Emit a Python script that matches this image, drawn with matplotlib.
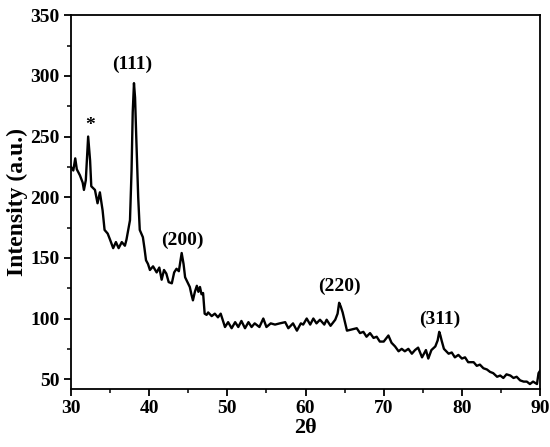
import matplotlib
matplotlib.use("Agg")
import matplotlib.pyplot as plt
from matplotlib.ticker import MultipleLocator

two_theta = [
    30.0, 30.3, 30.55, 30.75, 31.15, 31.5, 31.66, 31.9, 32.2, 32.45, 32.6, 33.07, 33.4, 33.7, 34.05,
    34.3, 34.7, 35.0, 35.4, 35.75, 36.1, 36.5, 36.9, 37.1, 37.55, 37.75, 37.9, 38.06, 38.2, 38.35,
    38.6, 38.8, 39.0, 39.2, 39.4, 39.6, 39.85, 40.1, 40.5, 40.96, 41.3, 41.6, 41.9, 42.2, 42.5,
    42.9, 43.2, 43.5, 43.8, 44.16, 44.4, 44.6, 44.9, 45.2, 45.4, 45.6, 45.85, 46.1, 46.3, 46.5,
    46.7, 46.9, 47.1, 47.35, 47.55, 48.0, 48.4, 48.8, 49.15, 49.7, 50.1, 50.55, 51.0, 51.4, 51.8,
    52.26, 52.7, 53.1, 53.5, 54.1, 54.6, 55.0, 55.55, 56.1, 56.7, 57.4, 57.8, 58.4, 58.9, 59.4,
    59.7, 60.15, 60.6, 61.0, 61.4, 61.85, 62.4, 62.7, 63.2, 63.8, 64.1, 64.3, 64.5, 64.75, 65.05,
    65.3, 65.9, 66.55, 66.97, 67.4, 67.8, 68.25, 68.7, 69.1, 69.5, 70.0, 70.6, 71.0, 71.45, 71.9,
    72.3, 72.7, 73.15, 73.6, 74.0, 74.4, 74.9, 75.4, 75.7, 76.1, 76.6, 76.9, 77.1, 77.25, 77.4,
    77.7, 78.3, 78.7, 79.1, 79.55, 80.0, 80.4, 80.8, 81.5, 81.9, 82.3, 82.75, 83.2, 83.6, 84.0,
    84.5, 84.9, 85.3, 85.7, 86.2, 86.6, 87.0, 87.45, 87.9, 88.3, 88.7, 89.1, 89.6, 89.8, 90.0,
]
intensity = [
    225, 222, 232, 223, 218, 212, 206, 214, 250, 230, 209, 206, 195, 204, 189,
    173, 170, 165, 158, 163, 158, 163, 160, 165, 181, 222, 270, 294, 282, 250,
    200, 173, 170, 167, 158, 148, 145, 140, 143, 138, 142, 132, 140, 137, 130,
    129, 138, 141, 139, 154, 145, 134, 130, 126, 120, 115, 122, 127, 122, 126,
    120, 121, 104, 103, 105, 102, 104, 101, 104, 93, 97, 92, 97, 93, 98,
    92, 97, 93, 96, 93, 100, 93, 96, 95, 96, 97, 92, 96, 90, 96,
    95, 100, 95, 100, 96, 99, 95, 99, 94, 99, 104, 113, 110, 105, 97,
    90, 91, 92, 88, 89, 85, 88, 84, 85, 81, 81, 86, 80, 77, 73,
    75, 73, 75, 71, 74, 76, 68, 74, 67, 74, 77, 82, 89, 86, 82,
    75, 71, 72, 68, 70, 67, 68, 64, 64, 61, 62, 59, 58, 56, 55,
    52, 53, 51, 54, 53, 51, 52, 49, 48, 48, 46, 48, 46, 55, 57,
]

peak_labels = ["*", "(111)", "(200)", "(220)", "(311)"]
peak_x = [32.4, 37.8, 44.2, 64.3, 77.2]
peak_y = [252, 302, 157, 119, 92]

plt.rcParams["font.family"] = ["Liberation Serif", "DejaVu Serif"]
plt.rcParams["font.weight"] = "bold"

fig = plt.figure(figsize=(5.5, 4.47), dpi=100)
ax = fig.add_axes([0.129, 0.130, 0.853, 0.836])
ax.plot(two_theta, intensity, color="black", lw=1.7)

for lab, px, py in zip(peak_labels, peak_x, peak_y):
    ax.text(px, py, lab, ha="center", va="bottom", fontsize=14, fontweight="bold")

ax.set_xlim(30, 90)
ax.set_ylim(42, 350)
ax.xaxis.set_major_locator(MultipleLocator(10))
ax.xaxis.set_minor_locator(MultipleLocator(5))
ax.yaxis.set_major_locator(MultipleLocator(50))
ax.yaxis.set_minor_locator(MultipleLocator(25))
ax.set_yticks([50, 100, 150, 200, 250, 300, 350])
ax.tick_params(which="major", direction="out", length=5, width=1.3, labelsize=14, pad=3)
ax.tick_params(which="minor", direction="out", length=3, width=1.1)
for lbl in ax.get_xticklabels() + ax.get_yticklabels():
    lbl.set_fontweight("bold")
for sp in ax.spines.values():
    sp.set_linewidth(1.3)

ax.set_xlabel("2θ", fontsize=16, fontweight="bold", labelpad=1)
ax.set_ylabel("Intensity (a.u.)", fontsize=17, fontweight="bold", labelpad=2)

fig.savefig("out.png", dpi=100)
